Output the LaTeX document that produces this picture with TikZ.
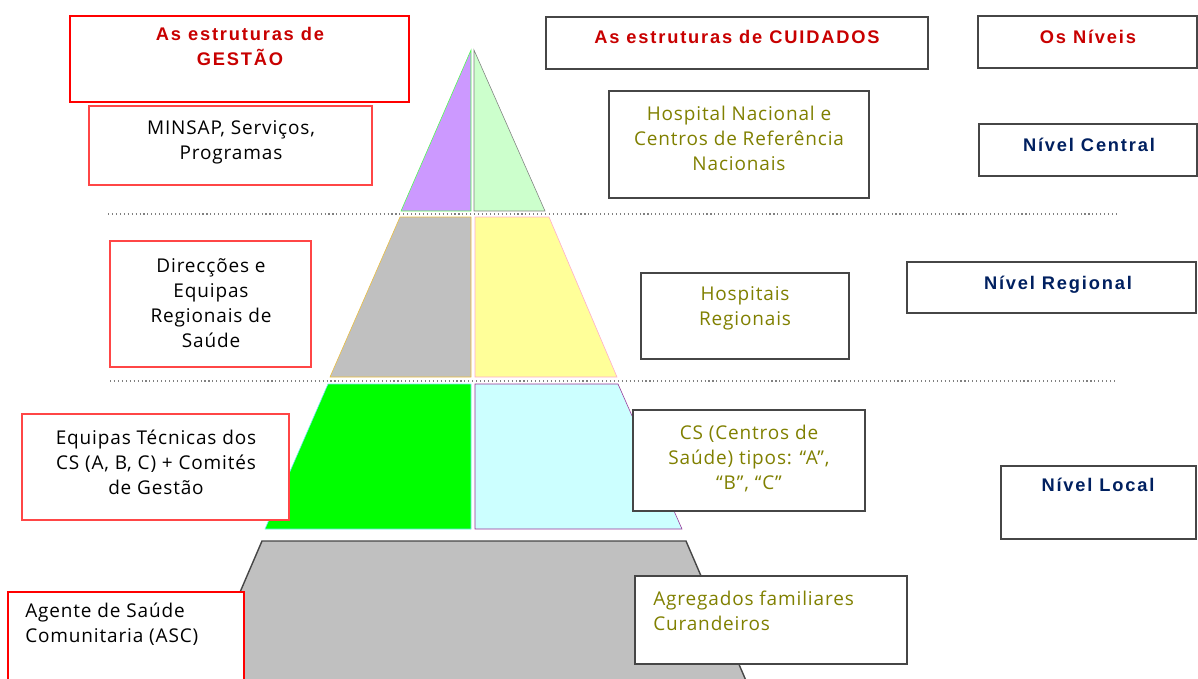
\documentclass[tikz,border=0pt]{standalone}
\usepackage{fontspec}
\setmainfont[LetterSpace=4.5]{Open Sans}
\newfontfamily\headface[LetterSpace=10]{Liberation Sans}
\usepackage{xcolor}
\definecolor{headred}{RGB}{200,0,0}
\definecolor{boxred}{RGB}{255,70,70}
\definecolor{careolive}{RGB}{128,128,0}
\definecolor{levelnavy}{RGB}{0,32,96}
\definecolor{boxgray}{RGB}{70,70,70}
\definecolor{topviolet}{RGB}{204,153,255}
\definecolor{topmint}{RGB}{204,255,204}
\definecolor{midgray}{RGB}{192,192,192}
\definecolor{midyellow}{RGB}{255,255,153}
\definecolor{lowgreen}{RGB}{0,255,0}
\definecolor{lowcyan}{RGB}{204,255,255}
\definecolor{edgegold}{RGB}{235,190,60}
\definecolor{edgepink}{RGB}{255,170,205}
\definecolor{edgecyan}{RGB}{110,235,245}
\definecolor{edgepurple}{RGB}{150,50,150}

\begin{document}
\begin{tikzpicture}[x=0.025cm,y=-0.025cm,
    bodytext/.style={font=\fontsize{13.5}{17.8}\selectfont,align=center,inner sep=0pt},
    headtext/.style={font=\fontsize{13}{17.8}\selectfont\headface\bfseries,align=center,inner sep=0pt},
    headline/.style={headtext,text height=9.5pt,text depth=0pt},
    redbox/.style={draw=boxred,line width=1pt,fill=white,rectangle,inner sep=0pt},
    graybox/.style={draw=boxgray,line width=1pt,fill=white,rectangle,inner sep=0pt},
    divider/.style={gray,dotted,line width=0.8pt}]
    \useasboundingbox (0,0) rectangle (1198,678);

    % pyramid
    \draw[fill=topviolet,draw=lowgreen!70] (471,50) -- (401,211) -- (471,211) -- cycle;
    \draw[fill=topmint,draw=gray] (474,50) -- (474,211) -- (545,211) -- cycle;
    \draw[fill=midgray,draw=edgegold] (400,217) -- (471,217) -- (471,377) -- (330,377) -- cycle;
    \draw[fill=midyellow,draw=edgepink] (475,217) -- (549,217) -- (617,377) -- (475,377) -- cycle;
    \draw[fill=lowgreen,draw=edgecyan] (328,384) -- (471,384) -- (471,529) -- (265,529) -- cycle;
    \draw[fill=lowcyan,draw=edgepurple] (475,384) -- (618,384) -- (682,529) -- (475,529) -- cycle;
    \draw[fill=midgray,draw=boxgray,line width=1pt] (262,541) -- (686,541) -- (750,690) -- (198,690) -- cycle;

    \draw[divider] (108,214) -- (1117,214);
    \draw[divider] (110,381) -- (1117,381);

    % management side
    \node[redbox,draw=red,minimum width=8.475cm,minimum height=2.15cm] (gestao) at (239.5,59) {};
    \node[headtext,text=headred] (gestaoT) at (240,46) {As estruturas de\\GESTÃO};
    \node[redbox,minimum width=7.075cm,minimum height=1.975cm] (minsap) at (230.5,145.5) {};
    \node[bodytext] (minsapT) at (231,142.5) {MINSAP, Serviços,\\Programas};
    \node[redbox,minimum width=5.025cm,minimum height=3.15cm] (direc) at (210.5,304) {};
    \node[bodytext] (direcT) at (211,303.5) {Direcções e\\Equipas\\Regionais de\\Saúde};
    \node[redbox,minimum width=6.675cm,minimum height=2.65cm] (eqtec) at (155.5,467) {};
    \node[bodytext] (eqtecT) at (156,462.5) {Equipas Técnicas dos\\CS (A, B, C) + Comités\\de Gestão};
    \node[redbox,draw=red,minimum width=5.9cm,minimum height=2.45cm] (agente) at (126,641) {};
    \node[bodytext,anchor=west,align=left] (agenteT) at (25,624) {Agente de Saúde\\Comunitaria (ASC)};

    % care side
    \node[graybox,minimum width=9.55cm,minimum height=1.3cm] (cuidados) at (737,43) {};
    \node[headline,text=headred] (cuidadosT) at (737,37) {As estruturas de CUIDADOS};
    \node[graybox,minimum width=6.5cm,minimum height=2.675cm] (hnac) at (739,144.5) {};
    \node[bodytext,text=careolive] (hnacT) at (739,138.5) {Hospital Nacional e\\Centros de Referência\\Nacionais};
    \node[graybox,minimum width=5.2cm,minimum height=2.15cm] (hreg) at (745,316) {};
    \node[bodytext,text=careolive] (hregT) at (745,308.5) {Hospitais\\Regionais};
    \node[graybox,minimum width=5.8cm,minimum height=2.525cm] (cs) at (749,460.5) {};
    \node[bodytext,text=careolive] (csT) at (749,458.5) {CS (Centros de\\Saúde) tipos: “A”,\\“B”, “C”};
    \node[graybox,minimum width=6.8cm,minimum height=2.2cm] (agreg) at (771,620) {};
    \node[bodytext,text=careolive,anchor=west,align=left] (agregT) at (653,611) {Agregados familiares\\Curandeiros};

    % levels
    \node[graybox,minimum width=5.475cm,minimum height=1.3cm] (niveis) at (1087.5,42) {};
    \node[headline,text=headred] (niveisT) at (1088,37) {Os Níveis};
    \node[graybox,minimum width=5.45cm,minimum height=1.3cm] (ncentral) at (1088,150) {};
    \node[headline,text=levelnavy] (ncentralT) at (1089,145) {Nível Central};
    \node[graybox,minimum width=7.225cm,minimum height=1.275cm] (nregional) at (1051.5,287.5) {};
    \node[headline,text=levelnavy] (nregionalT) at (1058,283) {Nível Regional};
    \node[graybox,minimum width=4.875cm,minimum height=1.825cm] (nlocal) at (1098.5,502.5) {};
    \node[headline,text=levelnavy] (nlocalT) at (1098,485) {Nível Local};
\end{tikzpicture}
\end{document}
